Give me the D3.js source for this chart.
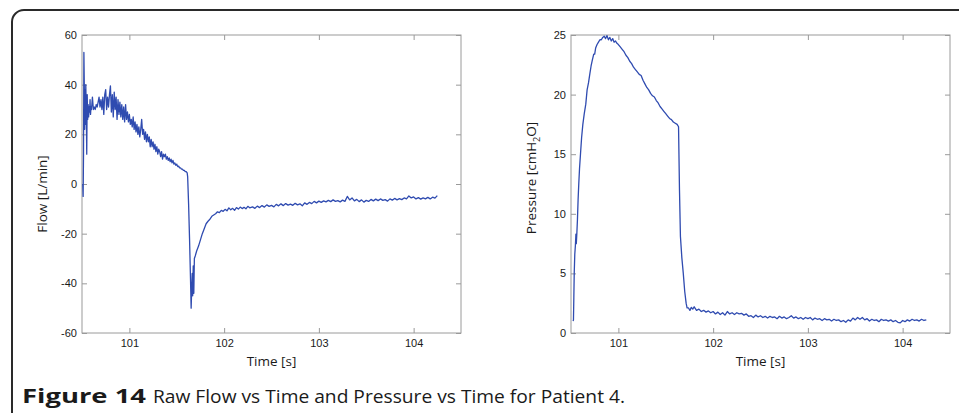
<!DOCTYPE html>
<html>
<head>
<meta charset="utf-8">
<script src="https://cdn.jsdelivr.net/npm/d3@7"></script>
<style>
  body { margin: 0; background: #fff; }
  svg { display: block; }
</style>
</head>
<body>
<svg id="chart" width="959" height="413"></svg>
<script>
// flow vs time
var flowT = [100.508, 100.512, 100.516, 100.52, 100.524, 100.528, 100.532, 100.536, 100.54, 100.545,
  100.55, 100.555, 100.56, 100.565, 100.57, 100.575, 100.58, 100.585, 100.59, 100.595,
  100.60, 100.61, 100.62, 100.63, 100.64, 100.65, 100.66, 100.67, 100.68, 100.69,
  100.70, 100.71, 100.72, 100.73, 100.74, 100.75, 100.76, 100.77, 100.78, 100.79,
  100.80, 100.81, 100.82, 100.83, 100.84, 100.85, 100.86, 100.87, 100.88, 100.89,
  100.90, 100.91, 100.92, 100.93, 100.94, 100.95, 100.96, 100.97, 100.98, 100.99,
  101.00, 101.01, 101.02, 101.03, 101.04, 101.05, 101.06, 101.07, 101.08, 101.09,
  101.10, 101.11, 101.12, 101.13, 101.14, 101.15, 101.16, 101.17, 101.18, 101.19,
  101.20, 101.21, 101.22, 101.23, 101.24, 101.25, 101.26, 101.27, 101.28, 101.29,
  101.30, 101.31, 101.32, 101.33, 101.34, 101.35, 101.36, 101.37, 101.38, 101.39,
  101.40, 101.41, 101.42, 101.43, 101.44, 101.45, 101.46, 101.47, 101.48, 101.49,
  101.50, 101.51, 101.52, 101.53, 101.54, 101.55, 101.56, 101.57, 101.58, 101.59,
  101.60, 101.61, 101.615, 101.625, 101.635, 101.645, 101.652, 101.658, 101.663, 101.668,
  101.674, 101.68, 101.686, 101.695, 101.71, 101.73, 101.75, 101.77, 101.79, 101.81,
  101.83, 101.85, 101.87, 101.89, 101.91, 101.93, 101.95, 101.97, 101.99, 102.01,
  102.03, 102.05, 102.07, 102.09, 102.11, 102.13, 102.15, 102.17, 102.19, 102.21,
  102.23, 102.25, 102.27, 102.300, 102.325, 102.350, 102.375, 102.400, 102.425, 102.450,
  102.475, 102.500, 102.525, 102.550, 102.575, 102.600, 102.625, 102.650, 102.675, 102.700,
  102.725, 102.750, 102.775, 102.800, 102.825, 102.850, 102.875, 102.900, 102.925, 102.950,
  102.975, 103.000, 103.025, 103.050, 103.075, 103.100, 103.125, 103.150, 103.175, 103.200,
  103.225, 103.250, 103.275, 103.300, 103.325, 103.350, 103.375, 103.400, 103.425, 103.450,
  103.475, 103.500, 103.525, 103.550, 103.575, 103.600, 103.625, 103.650, 103.675, 103.700,
  103.725, 103.750, 103.775, 103.800, 103.825, 103.850, 103.875, 103.900, 103.925, 103.950,
  103.975, 104.000, 104.025, 104.050, 104.075, 104.100, 104.125, 104.150, 104.175, 104.200,
  104.225, 104.250];
var flowV = [0, -5, 12, 53, 40, 22, 38, 24, 40, 30,
  12, 36, 26, 32, 27, 31, 29, 34, 28, 31,
  30, 35, 30, 31, 30, 32, 31, 33, 35, 31,
  34, 30, 35, 28, 36, 38, 30, 35, 31, 36,
  39.5, 29, 36, 27, 37, 30, 35, 26, 34, 28,
  33, 27, 32, 26, 31, 25, 32, 26, 29, 25,
  28, 24, 26, 23, 27, 22, 25, 21, 24, 20,
  23, 19, 22, 26, 20, 22, 18, 21, 17, 20,
  17, 19, 15, 18, 15, 17, 14, 16, 13, 15,
  12, 14, 13, 11, 13, 10, 12, 11, 12, 10,
  11, 9.5, 10.5, 9, 10, 8.5, 9.5, 8, 8.5, 7.5,
  8, 7, 7.2, 6.5, 6.5, 6, 6, 5.5, 5.5, 5,
  5, 4.5, 3, -8, -22, -38, -50, -42, -36, -45,
  -33, -44, -30, -29, -27, -25, -22.5, -20, -18, -16,
  -15, -14.2, -13, -12.5, -12, -11.2, -11.5, -10.6, -11, -10.2,
  -10.8, -9.6, -10.4, -9.8, -10.6, -9.5, -10.1, -9.3, -9.9, -9.4,
  -10, -9, -9.6, -9.2, -9.8, -8.9, -9.5, -8.7, -9.3, -8.4,
  -9.0, -8.6, -9.2, -8.2, -8.8, -8.0, -8.7, -7.9, -8.5, -8.1,
  -8.6, -7.8, -8.4, -8.0, -8.8, -7.6, -8.2, -7.4, -7.9, -7.0,
  -7.6, -6.9, -7.4, -6.8, -7.2, -6.6, -7.1, -6.4, -7.0, -6.7,
  -7.2, -6.5, -7.0, -5.0, -6.4, -5.6, -6.8, -6.2, -7.1, -6.4,
  -7.3, -6.6, -7.0, -6.2, -6.8, -6.1, -6.7, -6.0, -6.6, -6.3,
  -6.9, -6.0, -6.5, -5.8, -6.4, -5.9, -6.3, -5.6, -6.0, -4.8,
  -5.6, -5.2, -6.0, -5.5, -6.1, -5.6, -6.0, -5.4, -6.0, -5.3,
  -5.7, -4.7];

// pressure vs time (right panel)
var presT = [100.522, 100.526, 100.530, 100.534, 100.540, 100.546, 100.552, 100.556, 100.562, 100.568,
  100.575, 100.582, 100.590, 100.600, 100.612, 100.625, 100.640, 100.656, 100.670, 100.685,
  100.700, 100.712, 100.725, 100.740, 100.750, 100.760, 100.775, 100.790, 100.805, 100.820,
  100.835, 100.850, 100.865, 100.880, 100.895, 100.910, 100.925, 100.940, 100.955, 100.970,
  100.985, 101.000, 101.020, 101.040, 101.060, 101.080, 101.100, 101.120, 101.140, 101.160,
  101.180, 101.200, 101.220, 101.240, 101.260, 101.280, 101.300, 101.320, 101.340, 101.360,
  101.380, 101.400, 101.420, 101.440, 101.460, 101.480, 101.500, 101.520, 101.540, 101.560,
  101.580, 101.600, 101.620, 101.635, 101.645, 101.655, 101.670, 101.685, 101.700, 101.715,
  101.725, 101.740, 101.755, 101.770, 101.785, 101.800, 101.825, 101.850, 101.875, 101.900,
  101.925, 101.950, 101.975, 102.000, 102.025, 102.050, 102.075, 102.100, 102.125, 102.150,
  102.175, 102.200, 102.225, 102.250, 102.275, 102.300, 102.325, 102.350, 102.375, 102.400,
  102.425, 102.450, 102.475, 102.500, 102.525, 102.550, 102.575, 102.600, 102.625, 102.650,
  102.675, 102.700, 102.725, 102.750, 102.775, 102.800, 102.825, 102.850, 102.875, 102.900,
  102.925, 102.950, 102.975, 103.000, 103.025, 103.050, 103.075, 103.100, 103.125, 103.150,
  103.175, 103.200, 103.225, 103.250, 103.275, 103.300, 103.325, 103.350, 103.375, 103.400,
  103.425, 103.450, 103.475, 103.500, 103.525, 103.550, 103.575, 103.600, 103.625, 103.650,
  103.675, 103.700, 103.725, 103.750, 103.775, 103.800, 103.825, 103.850, 103.875, 103.900,
  103.925, 103.950, 103.975, 104.000, 104.025, 104.050, 104.075, 104.100, 104.125, 104.150,
  104.175, 104.200, 104.225, 104.250];
var presV = [1.0, 1.1, 3.0, 5.0, 6.6, 7.3, 8.3, 7.5, 8.4, 9.5,
  11.2, 12.5, 13.8, 15.0, 16.4, 17.5, 18.4, 19.2, 20.4, 21.0,
  21.8, 22.4, 22.9, 23.4, 23.4, 23.9, 24.2, 24.4, 24.6, 24.6,
  24.8, 24.9, 24.7, 24.95, 24.6, 24.8, 24.5, 24.7, 24.4, 24.5,
  24.3, 24.2, 24.0, 23.8, 23.6, 23.3, 23.1, 22.8, 22.6, 22.3,
  22.1, 21.9, 21.7, 21.6, 21.2, 20.9, 20.6, 20.4, 20.1, 19.9,
  19.8, 19.5, 19.3, 19.0, 18.8, 18.6, 18.4, 18.2, 18.0, 17.9,
  17.7, 17.6, 17.5, 17.3, 12.0, 8.1, 6.3, 5.0, 3.5, 2.5,
  2.1, 2.1, 1.9, 2.15, 2.0, 2.2, 1.9, 2.0, 1.8, 1.9,
  1.75, 1.85, 1.7, 1.8, 1.6, 1.75, 1.55, 1.7, 1.5, 1.8,
  1.6, 1.7, 1.55, 1.7, 1.6, 1.65, 1.5, 1.6, 1.4, 1.45,
  1.3, 1.5, 1.35, 1.45, 1.3, 1.4, 1.25, 1.4, 1.3, 1.35,
  1.2, 1.4, 1.25, 1.35, 1.2, 1.3, 1.45, 1.25, 1.35, 1.2,
  1.3, 1.15, 1.3, 1.2, 1.3, 1.1, 1.25, 1.15, 1.2, 1.05,
  1.2, 1.1, 1.15, 1.0, 1.15, 1.05, 1.1, 0.95, 1.05, 0.9,
  1.1, 1.0, 1.25, 1.1, 1.3, 1.15, 1.3, 1.1, 1.2, 1.0,
  1.15, 1.05, 1.1, 0.95, 1.15, 1.05, 1.1, 1.0, 1.1, 0.95,
  1.05, 0.9, 0.85, 1.05, 0.95, 1.1, 1.0, 1.15, 1.05, 1.1,
  1.0, 1.15, 1.05, 1.1];

var timeTicks = [101, 102, 103, 104];
var flowTicks = [-60, -40, -20, 0, 20, 40, 60];
var presTicks = [0, 5, 10, 15, 20, 25];

var svg = d3.select('#chart');
var lineColor = '#2f4bb0';
var boxColor = '#9a9a9a';
var plain = function(d) { return String(d); };

// figure frame
svg.append('rect')
  .attr('x', 12).attr('y', 10)
  .attr('width', 1000).attr('height', 500)
  .attr('rx', 12)
  .attr('fill', 'none')
  .attr('stroke', '#2a2a2a')
  .attr('stroke-width', 2);

function drawPanel(left, right, top, bottom, yDomain, yTicks, tData, vData) {
  var x = d3.scaleLinear().domain([100.5, 104.5]).range([left, right]);
  var y = d3.scaleLinear().domain(yDomain).range([bottom, top]);
  var g = svg.append('g');

  g.append('rect')
    .attr('x', left).attr('y', top)
    .attr('width', right - left).attr('height', bottom - top)
    .attr('fill', 'none')
    .attr('stroke', boxColor)
    .attr('stroke-width', 1);

  var axes = [
    g.append('g').attr('transform', 'translate(0,' + bottom + ')').call(d3.axisBottom(x).tickValues(timeTicks).tickSize(-5).tickPadding(6).tickFormat(plain)),
    g.append('g').attr('transform', 'translate(0,' + top + ')').call(d3.axisTop(x).tickValues(timeTicks).tickSize(-5).tickFormat('')),
    g.append('g').attr('transform', 'translate(' + left + ',0)').call(d3.axisLeft(y).tickValues(yTicks).tickSize(-5).tickPadding(5).tickFormat(plain)),
    g.append('g').attr('transform', 'translate(' + right + ',0)').call(d3.axisRight(y).tickValues(yTicks).tickSize(-5).tickFormat(''))
  ];
  axes.forEach(function(a) {
    a.select('.domain').remove();
    a.selectAll('.tick line').attr('stroke', boxColor);
    a.selectAll('.tick text')
      .attr('fill', '#1a1a1a')
      .style('font-family', 'Liberation Sans, Arial, sans-serif')
      .style('font-size', '11px');
  });

  var pts = tData.map(function(t, i) { return [t, vData[i]]; });
  var line = d3.line()
    .x(function(d) { return x(d[0]); })
    .y(function(d) { return y(d[1]); });

  g.append('path')
    .datum(pts)
    .attr('d', line)
    .attr('fill', 'none')
    .attr('stroke', lineColor)
    .attr('stroke-width', 1.3)
    .attr('stroke-linejoin', 'round');

  g.append('text')
    .attr('x', (left + right) / 2)
    .attr('y', 366)
    .attr('text-anchor', 'middle')
    .style('font-family', 'Open Sans, sans-serif')
    .style('font-size', '13.5px')
    .attr('fill', '#1a1a1a')
    .text('Time [s]');
  return g;
}

drawPanel(82, 461, 35, 333, [-60, 60], flowTicks, flowT, flowV);
drawPanel(571, 950, 35, 333, [0, 25], presTicks, presT, presV);

svg.append('text')
  .attr('transform', 'translate(47,194) rotate(-90)')
  .attr('text-anchor', 'middle')
  .style('font-family', 'Open Sans, sans-serif')
  .style('font-size', '13.5px')
  .attr('fill', '#1a1a1a')
  .text('Flow [L/min]');

var pl = svg.append('text')
  .attr('transform', 'translate(536,178) rotate(-90)')
  .attr('text-anchor', 'middle')
  .style('font-family', 'Open Sans, sans-serif')
  .style('font-size', '13.5px')
  .attr('fill', '#1a1a1a');
pl.append('tspan').text('Pressure [cmH');
pl.append('tspan').attr('dy', 4).style('font-size', '9px').text('2');
pl.append('tspan').attr('dy', -4).text('O]');

// caption
svg.append('text')
  .attr('x', 22)
  .attr('y', 403)
  .attr('textLength', 124)
  .attr('lengthAdjust', 'spacingAndGlyphs')
  .style('font-family', 'Open Sans, sans-serif')
  .style('font-size', '20px')
  .style('font-weight', 'bold')
  .attr('fill', '#1a1a1a')
  .text('Figure 14');
svg.append('text')
  .attr('x', 153)
  .attr('y', 403)
  .attr('textLength', 472)
  .attr('lengthAdjust', 'spacingAndGlyphs')
  .style('font-family', 'Open Sans, sans-serif')
  .style('font-size', '19px')
  .attr('fill', '#1a1a1a')
  .text('Raw Flow vs Time and Pressure vs Time for Patient 4.');
</script>
</body>
</html>
